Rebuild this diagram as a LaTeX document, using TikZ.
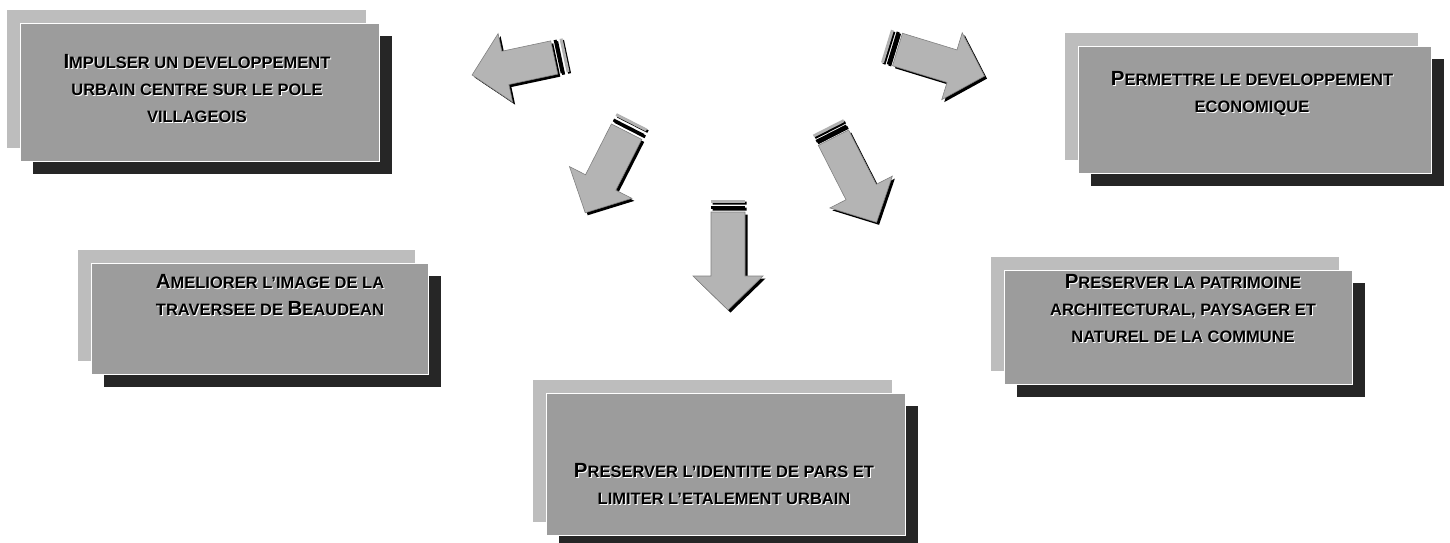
\documentclass[tikz,border=0pt]{standalone}
\usepackage{fontspec}
\setmainfont{Liberation Sans}
\definecolor{layerAc}{HTML}{BDBDBD}
\definecolor{layerBc}{HTML}{9C9C9C}
\definecolor{layerSc}{HTML}{262626}
\definecolor{arrowc}{HTML}{B4B4B4}
\newcommand\bc[1]{{\fontsize{20.5}{20}\selectfont #1}}
\newcommand\stackbox[5]{%
  \fill[layerAc] (#1,#2) rectangle ++(#3,#4);
  \fill[layerSc] (#1+26,#2+26) rectangle ++(#3,#4);
  \node[boxfront, minimum width=#3pt, minimum height=#4pt, anchor=north west] (#5) at (#1+13,#2+13) {};
}
\newcommand\blockarrow[4]{% tail, angle, length, tip name
  \fill[black, shift={(#1)}, xshift=2.5pt, yshift=-2.5pt, rotate=#2, arrowbody=#3];
  \fill[black, shift={(#1)}, xshift=1.5pt, yshift=-1.5pt, rotate=#2, arrowbars];
  \filldraw[fill=arrowc, draw=gray, line width=0.6pt, shift={(#1)}, rotate=#2, arrowbody=#3];
  \fill[gray!60, shift={(#1)}, rotate=#2, arrowbarA];
  \fill[black, shift={(#1)}, rotate=#2, arrowbarB];
  \coordinate[shift={(#1)}, rotate=#2] (#4) at (#3,0);
}
\tikzset{
  boxfront/.style={rectangle, inner sep=0pt, fill=layerBc, draw=white, line width=1pt},
  boxtext/.style={align=center, inner sep=0pt, font=\bfseries\fontsize{16.5}{27}\selectfont, text=black},
  boxtextw/.style={boxtext, text=white},
  arrowbody/.style={insert path={(12,-17) -- (#1-34,-17) -- (#1-34,-35) -- (#1,0) -- (#1-34,35) -- (#1-34,17) -- (12,17) -- cycle}},
  arrowbars/.style={insert path={(0,-17) rectangle (3,17) (6,-17) rectangle (9,17)}},
  arrowbarA/.style={insert path={(0,-17) rectangle (3,17)}},
  arrowbarB/.style={insert path={(6,-17) rectangle (9,17)}}
}
\begin{document}
\begin{tikzpicture}[x=1pt,y=-1pt]
\useasboundingbox[fill=white] (0,0) rectangle (1450,543);

% boxes
\stackbox{7}{10}{359}{138}{b1}
\stackbox{1065}{33}{353}{127}{b2}
\stackbox{78}{250}{337}{111}{b3}
\stackbox{991}{257}{348}{114}{b4}
\stackbox{533}{380}{359}{142}{b5}

% texts
\node[boxtextw] (t1w) at (198,90) {\bc{I}MPULSER UN DEVELOPPEMENT\\URBAIN CENTRE SUR LE POLE\\VILLAGEOIS};
\node[boxtext] (t1) at (197,89) {\bc{I}MPULSER UN DEVELOPPEMENT\\URBAIN CENTRE SUR LE POLE\\VILLAGEOIS};
\node[boxtextw] (t2w) at (1253,94.5) {\bc{P}ERMETTRE LE DEVELOPPEMENT\\ECONOMIQUE};
\node[boxtext] (t2) at (1252,93.5) {\bc{P}ERMETTRE LE DEVELOPPEMENT\\ECONOMIQUE};
\node[boxtextw] (t3w) at (271,296.5) {\bc{A}MELIORER L'IMAGE DE LA\\TRAVERSEE DE \bc{B}EAUDEAN};
\node[boxtext] (t3) at (270,295.5) {\bc{A}MELIORER L'IMAGE DE LA\\TRAVERSEE DE \bc{B}EAUDEAN};
\node[boxtextw] (t4w) at (1184,310) {\bc{P}RESERVER LA PATRIMOINE\\ARCHITECTURAL, PAYSAGER ET\\NATUREL DE LA COMMUNE};
\node[boxtext] (t4) at (1183,309) {\bc{P}RESERVER LA PATRIMOINE\\ARCHITECTURAL, PAYSAGER ET\\NATUREL DE LA COMMUNE};
\node[boxtextw] (t5w) at (725,485) {\bc{P}RESERVER L'IDENTITE DE PARS ET\\LIMITER L'ETALEMENT URBAIN};
\node[boxtext] (t5) at (724,484) {\bc{P}RESERVER L'IDENTITE DE PARS ET\\LIMITER L'ETALEMENT URBAIN};

% arrows
\coordinate (a1) at (566,55);
\coordinate (a2) at (886,46);
\coordinate (a3) at (632,121);
\coordinate (a4) at (728,200);
\coordinate (a5) at (828,127);
\blockarrow{a1}{192}{96}{a1tip}
\blockarrow{a2}{-17}{103}{a2tip}
\blockarrow{a3}{-117}{103}{a3tip}
\blockarrow{a4}{-90}{110}{a4tip}
\blockarrow{a5}{-63}{107}{a5tip}
\end{tikzpicture}
\end{document}
